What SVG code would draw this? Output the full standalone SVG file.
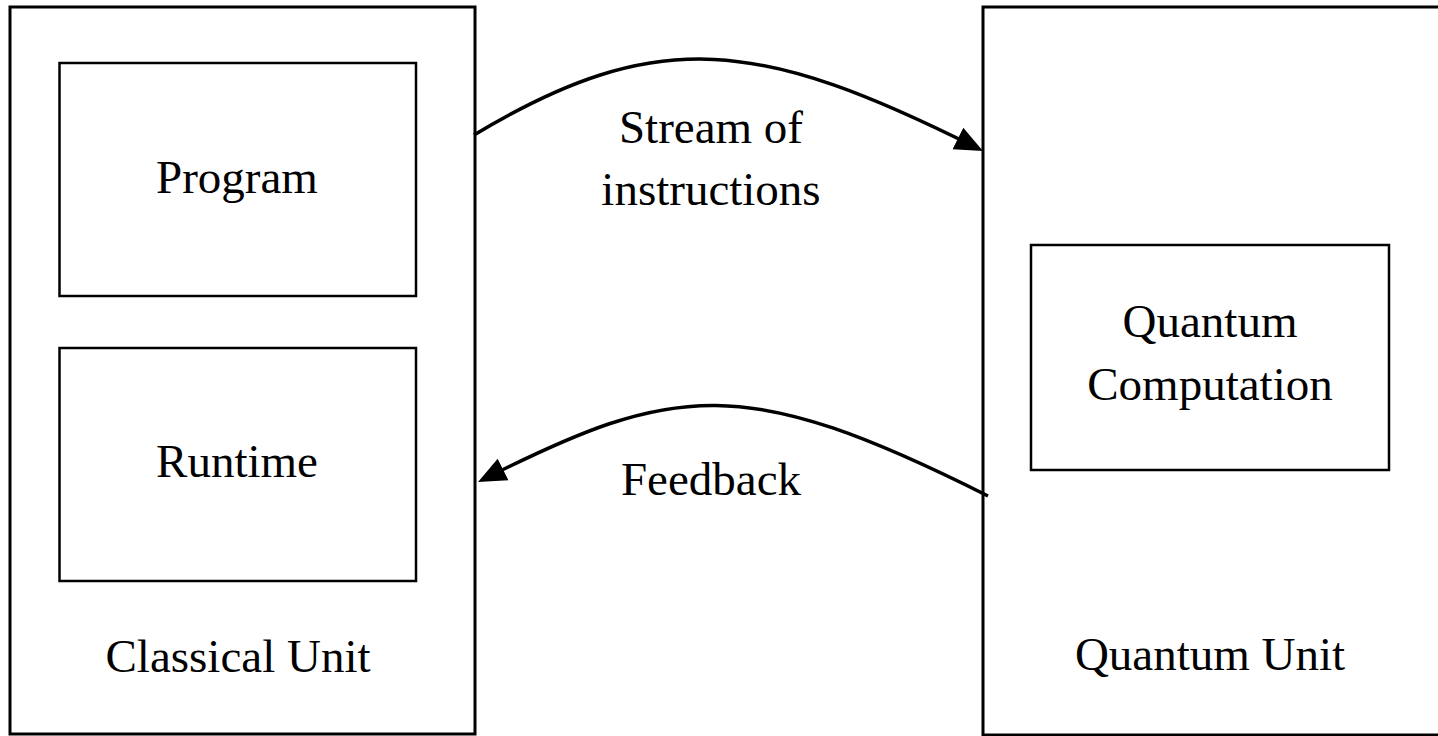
<svg xmlns="http://www.w3.org/2000/svg" width="1438" height="736" viewBox="0 0 1438 736">
  <style>
    .unit { fill: none; stroke: #000; stroke-width: 3; }
    .box { fill: none; stroke: #000; stroke-width: 2.5; }
    .lbl { font-family: "Liberation Serif", "Times New Roman", serif; font-size: 47px; fill: #000; text-anchor: middle; }
    .flow { fill: none; stroke: #000; stroke-width: 3.5; }
  </style>
  <defs>
    <!-- filled triangular head; tip sits 6px beyond the end of the path -->
    <marker id="arrow" markerUnits="userSpaceOnUse" markerWidth="34" markerHeight="28" viewBox="-28 -14 34 28" refX="-6" refY="0" orient="auto">
      <path d="M0,0 L-28,-12 L-28,12 Z" fill="#000"/>
    </marker>
  </defs>
  <rect width="1438" height="736" fill="#fff"/>

  <g id="classical-unit">
    <rect class="unit" x="10" y="7" width="465" height="727"/>
    <text class="lbl" x="238" y="672">Classical Unit</text>
  </g>
  <g id="program">
    <rect class="box" x="59.5" y="63" width="356.5" height="233"/>
    <text class="lbl" x="237" y="193">Program</text>
  </g>
  <g id="runtime">
    <rect class="box" x="59.5" y="348" width="356.5" height="233"/>
    <text class="lbl" x="237" y="477">Runtime</text>
  </g>

  <g id="quantum-unit">
    <rect class="unit" x="983" y="7" width="470" height="728"/>
    <text class="lbl" x="1210" y="670">Quantum Unit</text>
  </g>
  <g id="quantum-computation">
    <rect class="box" x="1031" y="245" width="358" height="225"/>
    <text class="lbl" x="1210" y="337">Quantum</text>
    <text class="lbl" x="1210" y="400">Computation</text>
  </g>

  <g id="connectors">
    <path class="flow" d="M474,135 C659,24 761,40 977.6,148.3" marker-end="url(#arrow)"/>
    <path class="flow" d="M988,496 C743,373 675,383 483.4,479.3" marker-end="url(#arrow)"/>
    <text class="lbl" x="711" y="143">Stream of</text>
    <text class="lbl" x="711" y="205">instructions</text>
    <text class="lbl" x="711" y="495">Feedback</text>
  </g>
</svg>
